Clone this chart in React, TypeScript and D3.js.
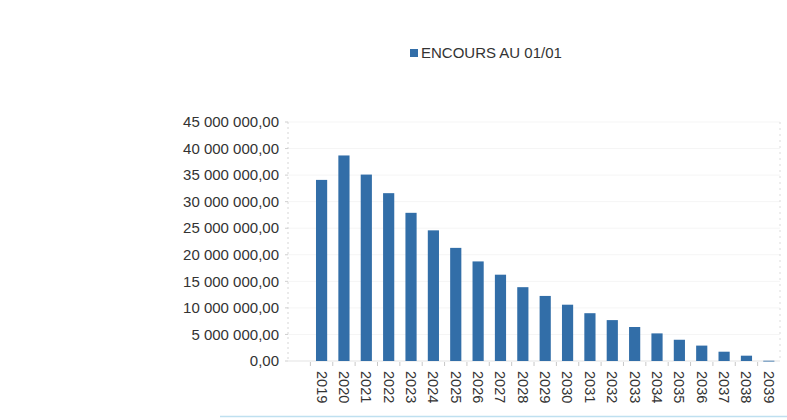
import React from "react";
import * as d3 from "d3";

const years = ["2019","2020","2021","2022","2023","2024","2025","2026","2027","2028","2029","2030","2031","2032","2033","2034","2035","2036","2037","2038","2039"];
const encours = [34.1,38.7,35.1,31.6,27.9,24.6,21.3,18.75,16.25,13.9,12.25,10.6,9.0,7.7,6.4,5.2,4.0,2.9,1.75,1.0,0.05].map(v => v * 1e6);
const yTicks = [0,5e6,10e6,15e6,20e6,25e6,30e6,35e6,40e6,45e6];
const seriesName = "ENCOURS AU 01/01";

const W = 787, H = 420;
const left = 288, right = 780, top = 122, bottom = 361;
const barColor = "#326ea8";
const font = "'Liberation Sans', Arial, sans-serif";

function fmt(v: number) {
  const s = d3.format(",.2f")(v);
  return s.replace(/,/g, " ").replace(/\.(\d\d)$/, ",$1");
}

export default function App() {
  const x = d3.scaleBand<string>().domain(years).range([left + 22.4, right]).paddingInner(0.5).paddingOuter(0.25);
  const step = x.step();
  const y = d3.scaleLinear().domain([0, 45e6]).range([bottom, top]);
  return (
    <svg width={W} height={H} style={{ position: "absolute", left: 0, top: 0, background: "#fff" }}>
      <rect x={0} y={0} width={W} height={H} fill="#fff" />
      {yTicks.slice(1).map(t => (
        <line key={t} x1={left} x2={right} y1={y(t)} y2={y(t)} stroke="#f5f5f5" strokeWidth={1} />
      ))}
      <line x1={left} x2={left} y1={top} y2={bottom} stroke="#d6d6d6" strokeDasharray="2,3" />
      <line x1={right} x2={right} y1={top} y2={bottom} stroke="#dcdcdc" strokeDasharray="2,4" />
      {yTicks.map(t => (
        <g key={t}>
          <line x1={left - 3} x2={left} y1={y(t)} y2={y(t)} stroke="#cfcfcf" />
          <text x={279} y={y(t)} dy="0.35em" textAnchor="end" fontFamily={font} fontSize={15} fill="#333">{fmt(t)}</text>
        </g>
      ))}
      <line x1={left} x2={right} y1={bottom} y2={bottom} stroke="#e3e3e3" />
      {years.map(yr => {
        const b = (x(yr) as number) - step * 0.25;
        return <line key={"t" + yr} x1={b} x2={b} y1={bottom + 1} y2={bottom + 5} stroke="#c8c8c8" />;
      })}
      {years.map((yr, i) => (
        <rect key={yr} x={x(yr)} y={y(encours[i])} width={x.bandwidth()} height={Math.max(0.8, bottom - y(encours[i]))} fill={barColor} />
      ))}
      {years.map(yr => {
        const cx = (x(yr) as number) + x.bandwidth() / 2;
        return (
          <text key={"l" + yr} transform={`translate(${cx},371) rotate(90)`} dy="0.35em" textAnchor="start" fontFamily={font} fontSize={14.5} fill="#333">{yr}</text>
        );
      })}
      <rect x={410} y={49} width={8} height={8} fill={barColor} />
      <text x={421} y={53} dy="0.35em" fontFamily={font} fontSize={15} fill="#333">{seriesName}</text>
      <line x1={220} x2={W} y1={416.5} y2={416.5} stroke="#bfe0f0" strokeWidth={1.5} />
    </svg>
  );
}
